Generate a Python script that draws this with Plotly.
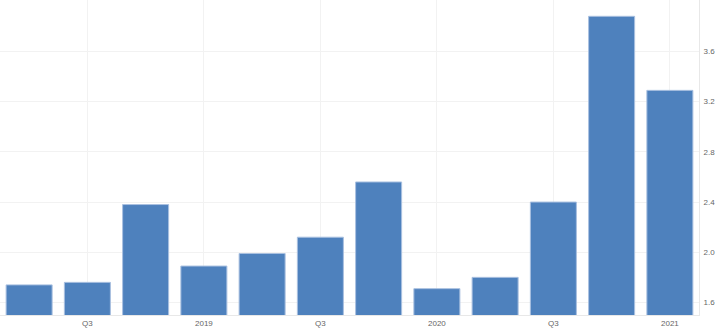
import plotly.graph_objects as go

quarters = ["2018Q2", "2018Q3", "2018Q4", "2019Q1", "2019Q2", "2019Q3",
            "2019Q4", "2020Q1", "2020Q2", "2020Q3", "2020Q4", "2021Q1"]
values = [1.74, 1.76, 2.38, 1.89, 1.99, 2.12, 2.56, 1.71, 1.80, 2.40, 3.88, 3.29]
tick_quarters = ["2018Q3", "2019Q1", "2019Q3", "2020Q1", "2020Q3", "2021Q1"]
tick_labels = ["Q3", "2019", "Q3", "2020", "Q3", "2021"]
y_ticks = [1.6, 2.0, 2.4, 2.8, 3.2, 3.6]

fig = go.Figure(go.Bar(
    x=quarters, y=values,
    marker=dict(color="#4e81bd", line=dict(color="#a9c0e0", width=1)),
))

fig.update_layout(
    width=728, height=335,
    margin=dict(l=0, r=28.5, t=0, b=20.3),
    paper_bgcolor="white", plot_bgcolor="white",
    bargap=0.21,
    showlegend=False,
    font=dict(family="Liberation Sans, Arial, sans-serif", size=8, color="#666666"),
    xaxis=dict(
        type="category",
        tickmode="array", tickvals=tick_quarters, ticktext=tick_labels,
        showgrid=True, gridcolor="#f2f2f2", gridwidth=1,
        showline=True, linecolor="#e8e8e8", linewidth=1,
        ticks="", ticklabelstandoff=0,
    ),
    yaxis=dict(
        side="right", range=[1.5, 4.01],
        tickmode="array", tickvals=y_ticks, ticktext=[f"{v:.1f}" for v in y_ticks],
        showgrid=True, gridcolor="#f2f2f2", gridwidth=1,
        showline=True, linecolor="#e8e8e8", linewidth=1,
        zeroline=False, ticks="", ticklabelstandoff=2,
    ),
)

fig.write_html("out.html")
